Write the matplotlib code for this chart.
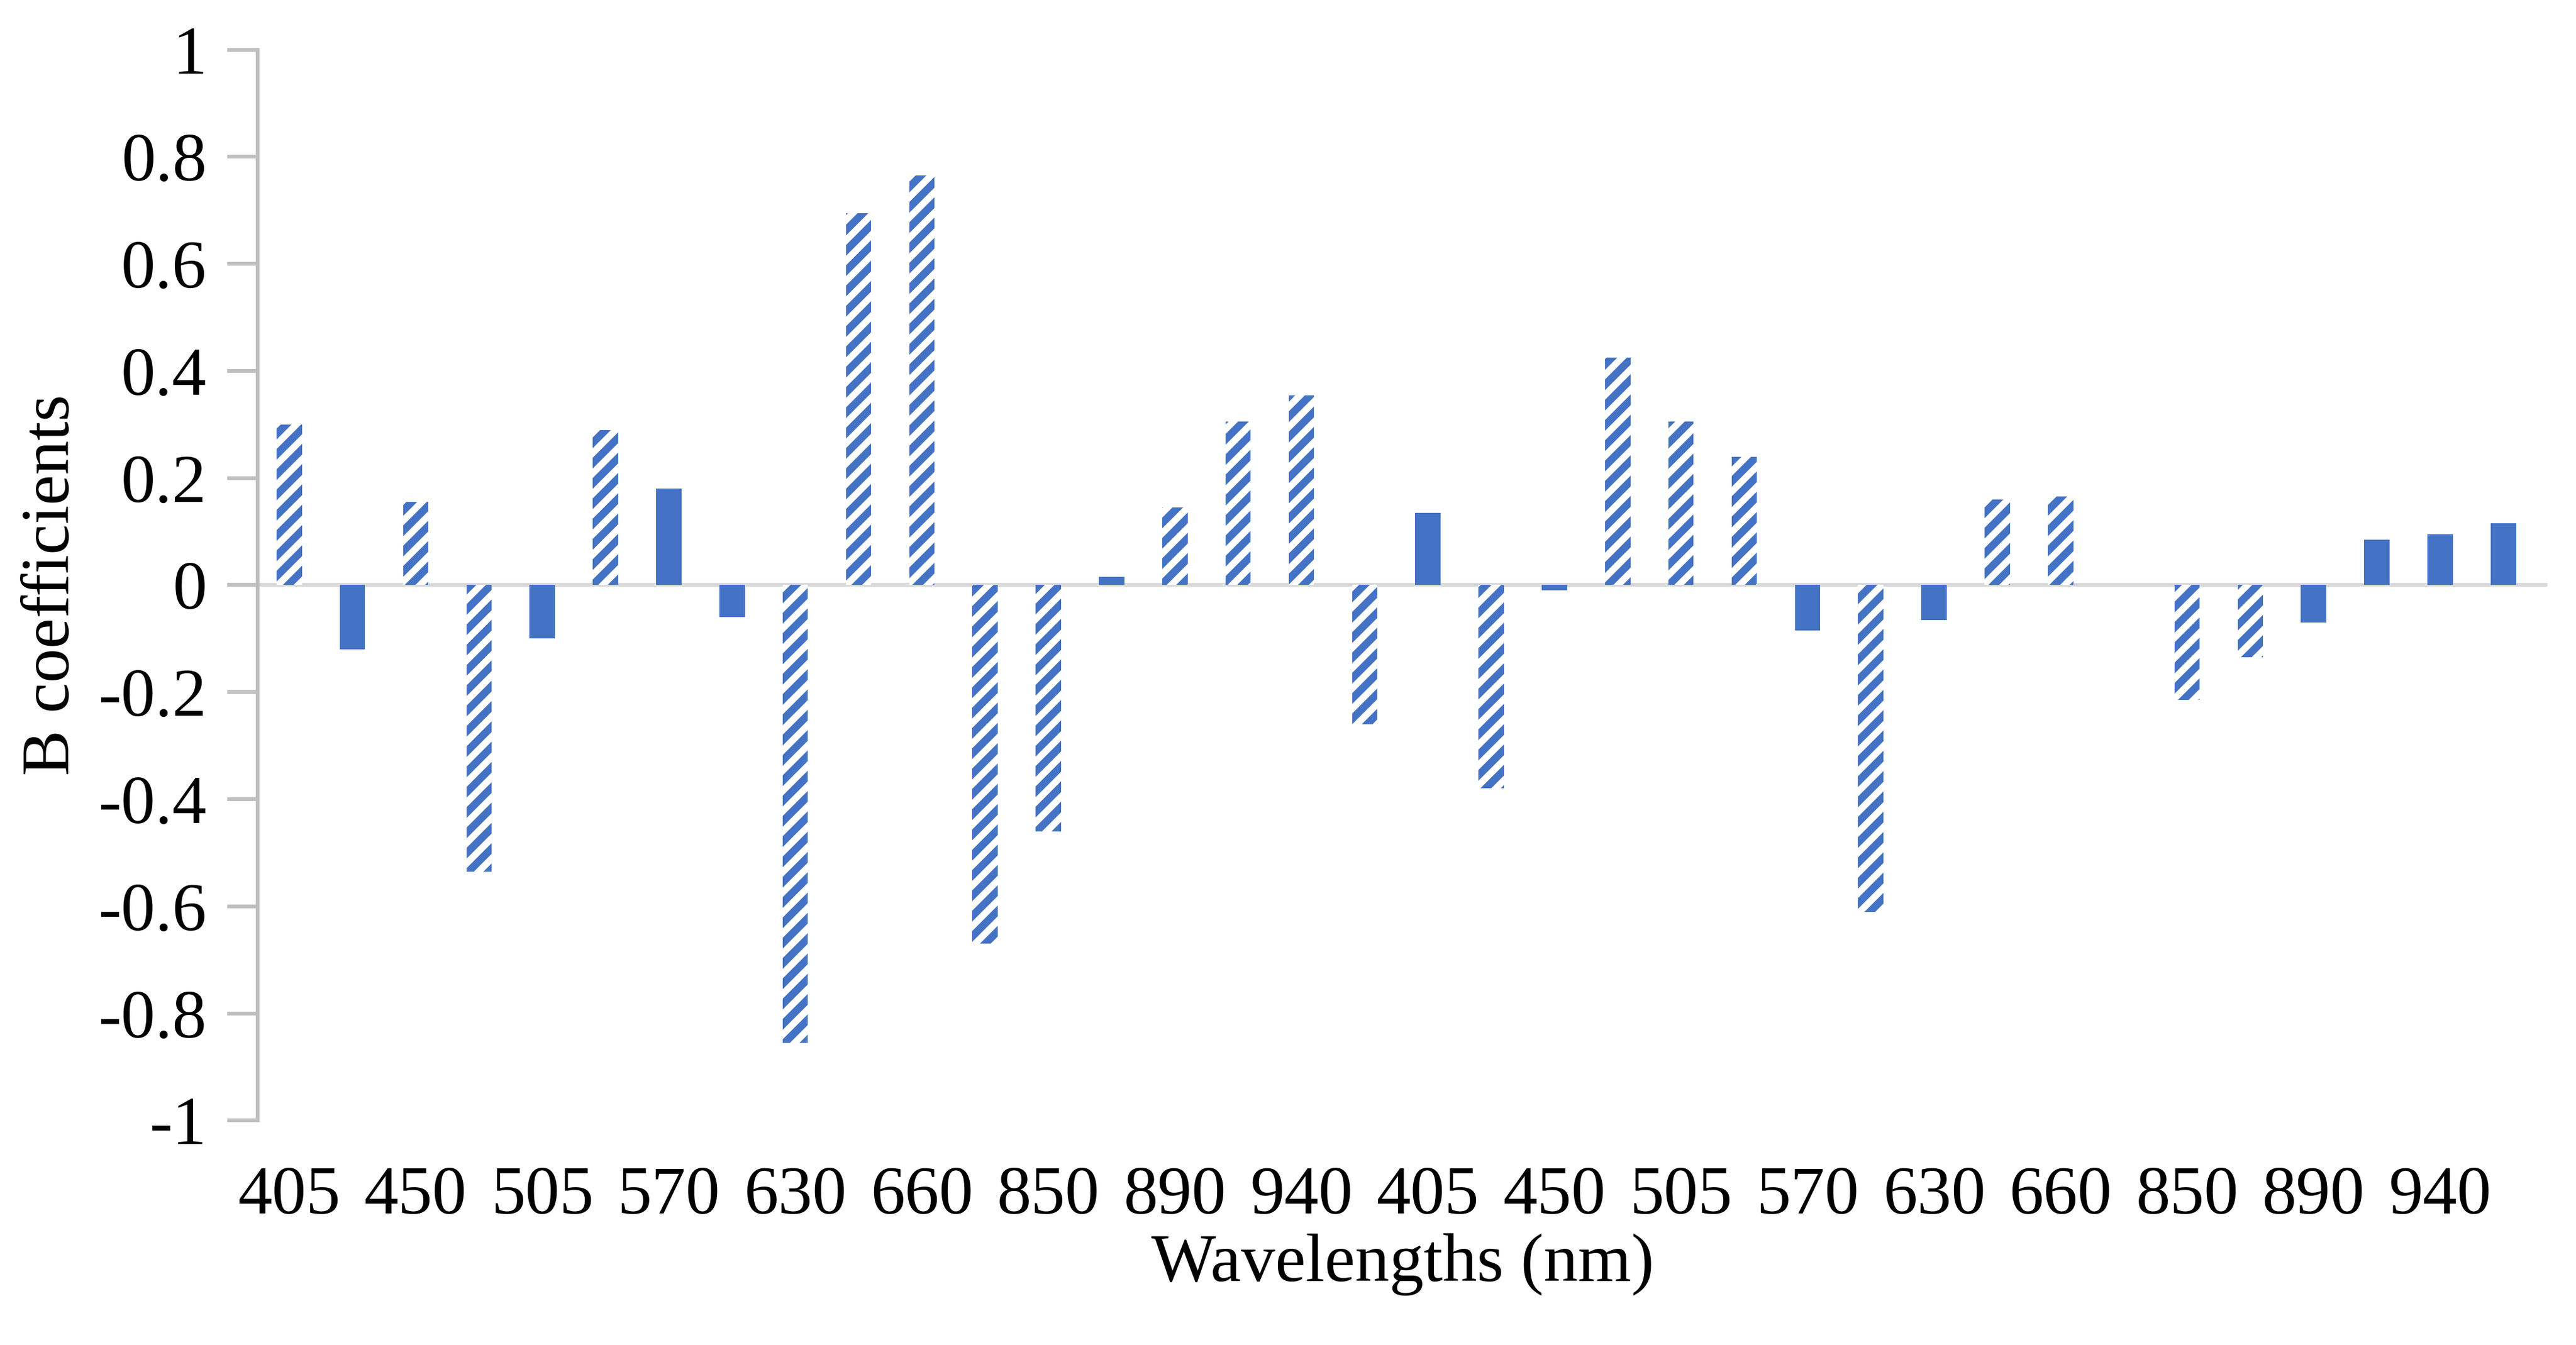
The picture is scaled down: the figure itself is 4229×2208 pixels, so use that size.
import matplotlib
matplotlib.use("Agg")
import matplotlib.pyplot as plt
import numpy as np

values = [0.30, -0.12, 0.155, -0.535, -0.10, 0.29, 0.18, -0.06, -0.855, 0.695, 0.765,
          -0.67, -0.46, 0.015, 0.145, 0.305, 0.355, -0.26, 0.135, -0.38, -0.01, 0.425,
          0.305, 0.24, -0.085, -0.61, -0.065, 0.16, 0.165, 0.0, -0.215, -0.135, -0.07,
          0.085, 0.095, 0.115]
hatched = [1, 0, 1, 1, 0, 1, 0, 0, 1, 1, 1, 1, 1, 0, 1, 1, 1, 1, 0, 1, 0, 1, 1, 1, 0, 1,
           0, 1, 1, 0, 1, 1, 0, 0, 0, 0]
tick_labels = ["405", "450", "505", "570", "630", "660", "850", "890", "940",
               "405", "450", "505", "570", "630", "660", "850", "890", "940"]

plt.rcParams['font.family'] = ['Liberation Serif', 'DejaVu Serif']
plt.rcParams['hatch.linewidth'] = 3.0
color = "#4472C4"

fig = plt.figure(figsize=(4229/300, 2208/300), dpi=300)
ax = fig.add_axes([0.100, 0.167, 0.889, 0.796])
x = np.arange(len(values))
ax.axhline(0, color="#D9D9D9", lw=1.5, zorder=0)
for xi, v, h in zip(x, values, hatched):
    if h:
        ax.bar(xi, v, width=0.4, facecolor="white", edgecolor=color, hatch="///", lw=0)
    else:
        ax.bar(xi, v, width=0.4, color=color, lw=0)

ax.set_ylim(-1, 1)
ax.set_xlim(-0.5, len(values) - 0.3)
yt = np.round(np.arange(-1, 1.01, 0.2), 1)
ax.set_yticks(yt)
ax.set_yticklabels(["0" if t == 0 else ("1" if t == 1 else ("-1" if t == -1 else f"{t:.1f}")) for t in yt])
ax.set_xticks(x[::2])
ax.set_xticklabels(tick_labels)
for s in ["top", "right", "bottom"]:
    ax.spines[s].set_visible(False)
ax.spines["left"].set_color("#BFBFBF")
ax.spines["left"].set_linewidth(1.5)
ax.tick_params(axis="y", length=12, width=1.5, color="#BFBFBF", labelsize=27, pad=8)
ax.tick_params(axis="x", length=0, labelsize=27, pad=18)
ax.set_xlabel("Wavelengths (nm)", fontsize=27, labelpad=2)
ax.set_ylabel("B coefficients", fontsize=27, labelpad=6)
fig.savefig("out.png", dpi=300)
